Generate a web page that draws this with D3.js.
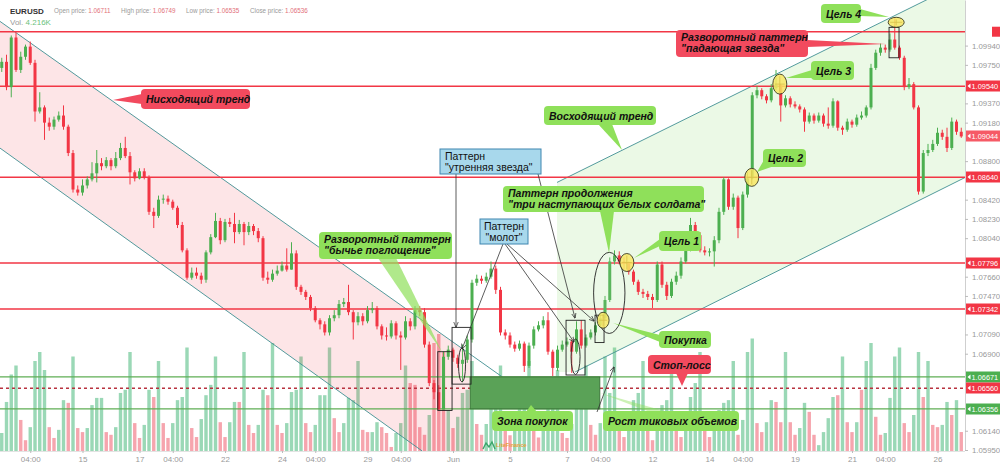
<!DOCTYPE html>
<html>
<head>
<meta charset="utf-8">
<script src="https://cdn.jsdelivr.net/npm/d3@7"></script>
<style>
  body { margin: 0; background: #fff; }
  svg { display: block; font-family: "Liberation Sans", Arial, sans-serif; }
</style>
</head>
<body>
<svg id="chart" width="1000" height="467"></svg>
<script>
// ---- data (EURUSD, H4) ----
const symbol = "EURUSD";
const headerFields = [["Open price", "1.06711"], ["High price", "1.06749"], ["Low price", "1.06535"], ["Close price", "1.06536"]];
const lastVolume = "4.216K";

const firstOpen = 1.0972;
const closes = [
  1.0978,1.0953,1.1002,1.0970,1.0983,1.0993,1.0977,1.0929,1.0933,1.0918,
  1.0914,1.0921,1.0925,1.0914,1.0888,1.0852,1.0849,1.0856,1.0862,1.0868,
  1.0878,1.0875,1.0881,1.0875,1.0883,1.0893,1.0885,1.0869,1.0863,1.0870,
  1.0864,1.0830,1.0826,1.0842,1.0843,1.0840,1.0834,1.0817,1.0792,1.0765,
  1.0770,1.0767,1.0763,1.0790,1.0805,1.0821,1.0802,1.0820,1.0818,1.0810,
  1.0818,1.0810,1.0816,1.0811,1.0804,1.0765,1.0763,1.0769,1.0772,1.0777,
  1.0773,1.0789,1.0756,1.0751,1.0746,1.0735,1.0723,1.0719,1.0711,1.0725,
  1.0728,1.0739,1.0741,1.0731,1.0721,1.0727,1.0722,1.0733,1.0735,1.0717,
  1.0708,1.0707,1.0720,1.0708,1.0706,1.0722,1.0717,1.0733,1.0731,1.0699,
  1.0661,1.0652,1.0635,1.0687,1.0694,1.0686,1.0680,1.0684,1.0704,1.0760,
  1.0764,1.0762,1.0766,1.0774,1.0753,1.0711,1.0708,1.0699,1.0695,1.0700,
  1.0678,1.0698,1.0714,1.0718,1.0723,1.0692,1.0676,1.0694,1.0699,1.0702,
  1.0692,1.0714,1.0698,1.0706,1.0711,1.0718,1.0725,1.0743,1.0781,1.0787,
  1.0781,1.0779,1.0771,1.0761,1.0751,1.0749,1.0746,1.0743,1.0778,1.0758,
  1.0747,1.0761,1.0767,1.0781,1.0792,1.0817,1.0807,1.0792,1.0790,1.0791,
  1.0802,1.0830,1.0862,1.0835,1.0844,1.0814,1.0847,1.0863,1.0945,1.0950,
  1.0944,1.0940,1.0952,1.0955,1.0935,1.0942,1.0936,1.0934,1.0931,1.0919,
  1.0925,1.0920,1.0925,1.0917,1.0915,1.0939,1.0913,1.0911,1.0919,1.0916,
  1.0923,1.0925,1.0933,1.0972,1.0987,1.0992,1.0990,1.1000,1.0992,1.0982,
  1.0953,1.0956,1.0933,1.0850,1.0888,1.0891,1.0897,1.0908,1.0904,1.0893,
  1.0919,1.0909,1.09044
];
const highs = [
  1.0982,1.0985,1.1004,1.1007,1.0988,1.0995,1.0998,1.0980,1.0948,1.0935,
  1.0923,1.0924,1.0929,1.0935,1.0916,1.0891,1.0856,1.0862,1.0865,1.0879,
  1.0891,1.0883,1.0884,1.0883,1.0889,1.0898,1.0904,1.0889,1.0871,1.0873,
  1.0873,1.0866,1.0834,1.0846,1.0847,1.0846,1.0842,1.0836,1.0820,1.0794,
  1.0775,1.0775,1.0770,1.0792,1.0808,1.0829,1.0824,1.0823,1.0824,1.0829,
  1.0822,1.0820,1.0820,1.0818,1.0814,1.0806,1.0771,1.0773,1.0777,1.0781,
  1.0794,1.0800,1.0792,1.0758,1.0753,1.0748,1.0737,1.0725,1.0722,1.0728,
  1.0733,1.0743,1.0745,1.0758,1.0733,1.0731,1.0730,1.0737,1.0741,1.0737,
  1.0719,1.0716,1.0723,1.0722,1.0712,1.0727,1.0725,1.0737,1.0737,1.0735,
  1.0702,1.0664,1.0659,1.0692,1.0698,1.0696,1.0689,1.0699,1.0708,1.0763,
  1.0768,1.0767,1.0770,1.0781,1.0777,1.0756,1.0714,1.0711,1.0702,1.0703,
  1.0702,1.0701,1.0717,1.0722,1.0727,1.0731,1.0694,1.0698,1.0703,1.0706,
  1.0704,1.0722,1.0723,1.0709,1.0714,1.0721,1.0729,1.0747,1.0785,1.0792,
  1.0791,1.0785,1.0781,1.0773,1.0763,1.0754,1.0752,1.0749,1.0781,1.0781,
  1.0761,1.0764,1.0771,1.0785,1.0796,1.0824,1.0820,1.0810,1.0796,1.0794,
  1.0806,1.0834,1.0864,1.0863,1.0848,1.0846,1.0850,1.0869,1.0948,1.0954,
  1.0952,1.0946,1.0956,1.0970,1.0956,1.0945,1.0944,1.0939,1.0936,1.0933,
  1.0928,1.0927,1.0928,1.0927,1.0933,1.0942,1.0940,1.0915,1.0922,1.0921,
  1.0926,1.0929,1.0935,1.0976,1.0990,1.0996,1.0995,1.1006,1.1021,1.0994,
  1.0984,1.0962,1.0958,1.0935,1.0891,1.0897,1.0901,1.0913,1.0911,1.0913,
  1.0923,1.0921,1.0913
];
const lows = [
  1.0968,1.0950,1.0943,1.0968,1.0967,1.0980,1.0975,1.0919,1.0927,1.0901,
  1.0910,1.0911,1.0919,1.0911,1.0885,1.0849,1.0846,1.0846,1.0853,1.0860,
  1.0859,1.0871,1.0873,1.0871,1.0873,1.0881,1.0883,1.0857,1.0860,1.0862,
  1.0862,1.0827,1.0814,1.0824,1.0838,1.0837,1.0832,1.0814,1.0790,1.0763,
  1.0763,1.0764,1.0759,1.0760,1.0788,1.0804,1.0798,1.0800,1.0815,1.0799,
  1.0808,1.0797,1.0807,1.0807,1.0800,1.0762,1.0759,1.0761,1.0767,1.0771,
  1.0771,1.0775,1.0753,1.0748,1.0743,1.0732,1.0721,1.0714,1.0708,1.0708,
  1.0722,1.0725,1.0736,1.0728,1.0704,1.0718,1.0718,1.0720,1.0730,1.0714,
  1.0704,1.0703,1.0705,1.0704,1.0674,1.0704,1.0713,1.0714,1.0727,1.0696,
  1.0658,1.0645,1.0637,1.0636,1.0684,1.0682,1.0676,1.0662,1.0681,1.0701,
  1.0757,1.0759,1.0760,1.0764,1.0749,1.0708,1.0704,1.0696,1.0692,1.0693,
  1.0672,1.0676,1.0695,1.0712,1.0715,1.0689,1.0668,1.0673,1.0692,1.0697,
  1.0671,1.0690,1.0695,1.0696,1.0704,1.0708,1.0716,1.0723,1.0741,1.0778,
  1.0778,1.0773,1.0768,1.0758,1.0748,1.0745,1.0743,1.0735,1.0741,1.0755,
  1.0743,1.0745,1.0758,1.0764,1.0779,1.0791,1.0804,1.0790,1.0787,1.0786,
  1.0776,1.0799,1.0827,1.0832,1.0832,1.0804,1.0812,1.0844,1.0862,1.0942,
  1.0941,1.0937,1.0938,1.0950,1.0919,1.0933,1.0933,1.0932,1.0928,1.0909,
  1.0917,1.0917,1.0918,1.0914,1.0912,1.0913,1.0910,1.0906,1.0909,1.0913,
  1.0914,1.0921,1.0923,1.0931,1.0970,1.0984,1.0987,1.0988,1.0990,1.0980,
  1.0950,1.0951,1.0931,1.0847,1.0848,1.0885,1.0889,1.0895,1.0901,1.0889,
  1.0891,1.0906,1.0903
];
// tick volume, thousands
const volumes = [
  4.0,10.9,17,19,6.9,2.4,5.3,20,22,18,
  5.3,2.9,4.7,11.3,10.7,21,5.1,4.2,5.1,10.2,
  11.8,11.8,4.2,3.6,5.3,12.9,13.6,22,6.2,2.9,
  5.8,13.6,12.0,20,6.2,2.9,6.2,11.3,12.0,23,
  5.1,3.1,7.1,12.4,14.7,21,6.4,3.1,6.4,10.9,
  10.9,22,5.8,4.0,5.8,13.6,12.4,24,5.8,4.0,
  6.2,13.1,13.6,21,6.2,4.2,5.8,12.4,12.4,23,
  7.3,4.2,6.2,11.8,11.3,20,4.7,4.2,4.2,6.4,
  5.3,4.0,0.9,4.0,6.2,19,15.1,14.7,5.3,3.6,
  8.0,24,26,22,9,5.1,7.6,12.9,13.6,20,
  6,3.6,6,11,12,19,6,3.5,6,11,
  12,20,6.5,3,6,11,12,18,4.0,2.9,
  6,11,12,19,5.8,3.6,6.2,21,12.9,23,
  5.1,3.1,6.4,11.3,12.9,20,5.1,2.4,6.2,10.2,
  11.3,21,4.7,3.1,6.2,12.0,15.1,22,5.3,3.1,
  6.9,9.1,10.7,11.3,20,3.6,6.9,22,25,6.2,
  4.2,6.4,11.3,10.9,6.4,22,6.4,3.6,5.1,10.7,
  8.7,3.6,1.3,4.2,7.3,12.0,12.4,21,6.4,4.2,
  6.4,13.6,20,24,7.6,3.6,4.0,11.8,21,23,
  6.2,4.2,8.0,22,12.0,20,5.8,5.3,5.8,10.9,
  8.0,11.3,4.216
];
const volDir = ("ggggrrgggg" + "rrggrgrrgg" + "ggrrggggrr" + "ggrgrrgggg" + "rrggggrrgg" +
                "rgrrggrgrr" + "ggggrrgggg" + "rrggggrrgg" + "rrrgggrrrr" + "grrrgrgggg" +
                "rrggggrrgg" + "ggrrggggrr" + "ggggrrgggg" + "rrggggrrgg" + "ggrrggggrr" +
                "gggggrgggr" + "rggrrgrrgg" + "rrggggrgrr" + "grggrrgggg" + "rrggrgrrgg" + "rgr").split("");

// time axis: candle index -> label
const tickIdx    = [6, 17, 29, 36, 47, 59, 66, 77, 84, 95, 107, 119, 126, 137, 149, 156, 167, 179, 186, 197];
const tickLabels = ["04:00","15","17","04:00","22","24","04:00","29","04:00","Jun","5","7","04:00","12","14","04:00","19","21","04:00","26"];

// horizontal levels
const redLevels   = [1.10077, 1.09540, 1.08640, 1.07796, 1.07342];
const greenLevels = [1.06671, 1.06356];
const stopLevel   = 1.06560;
const lastPrice   = 1.09044;

// trend channels, [candle index, price]
const descUpper = [[-1, 1.1020], [106, 1.0665]];
const descLower = [[-1, 1.0895], [88.5, 1.0594]];
const ascUpper  = [[116.9, 1.0859], [205, 1.1063]];
const ascLower  = [[120.7, 1.0672], [205, 1.0869]];

// pattern marks, [i0, i1, priceTop, priceBottom]
const patternBoxes = [[91.8, 94.8, 1.0692, 1.0634], [94.8, 98.8, 1.0716, 1.0660], [118.8, 122.8, 1.0723, 1.0669],
                      [124.9, 126.8, 1.0728, 1.0701], [186.8, 188.9, 1.1012, 1.0982]];
// [index, price, half-width in candles, half-height in price]
const patternEllipses = [[96.9, 1.0679, 0.74, 0.0017], [120.8, 1.0687, 0.95, 0.00175], [127.9, 1.0750, 3.3, 0.0040]];
const buyZone = [98.6, 125.9, 1.06671, 1.06356];
// entry and targets, [index, price]
const targets = [[126.6, 1.0723], [131.6, 1.0780], [157.9, 1.0864], [163.8, 1.0956], [188.3, 1.1017]];

// ---- chart ----
const svg = d3.select("#chart");
const plotR = 965, plotB = 451;
const x = d3.scaleLinear().domain([0, closes.length - 1]).range([1.75, 1.75 + 4.75 * (closes.length - 1)]);
const y = d3.scaleLinear().domain([1.0595, 1.1039]).range([450, 0]);
const yv = d3.scaleLinear().domain([0, 10]).range([plotB, plotB - 45]);

const UP = "#4caf50", DOWN = "#f23645";
const GREEN = "#8fe05a", RED = "#f24a5e", BLUE = "#a8d8ec";

const defs = svg.append("defs");
defs.append("clipPath").attr("id", "plot").append("rect").attr("width", plotR).attr("height", plotB);
defs.append("marker").attr("id", "arr").attr("viewBox", "0 0 10 10").attr("refX", 9).attr("refY", 5)
    .attr("markerWidth", 7).attr("markerHeight", 7).attr("orient", "auto")
  .append("path").attr("d", "M0,1L10,5L0,9").attr("fill", "none").attr("stroke", "#222").attr("stroke-width", 1.2);

const plot = svg.append("g").attr("clip-path", "url(#plot)");

// volume
plot.append("g").selectAll("rect").data(volumes).join("rect")
    .attr("x", (d, i) => x(i) - 1.7).attr("width", 3.4)
    .attr("y", d => yv(d)).attr("height", d => plotB - yv(d))
    .attr("fill", (d, i) => volDir[i] === "g" ? "#9ad8b6" : "#f6a5ae");

// channel fills
const lerp = (seg, i) => seg[0][1] + (seg[1][1] - seg[0][1]) * (i - seg[0][0]) / (seg[1][0] - seg[0][0]);
const pt = d => [x(d[0]), y(d[1])];
const pinkRight = buyZone[0];
const pinkPts = [descUpper[0], [pinkRight, lerp(descUpper, pinkRight)], [pinkRight, descLower[1][1]], descLower[1], descLower[0]];
const greenPts = [ascUpper[0], ascUpper[1], ascLower[1], ascLower[0], [ascUpper[0][0], ascLower[0][1]]];
plot.append("path").attr("d", d3.line()(pinkPts.map(pt)) + "Z").attr("fill", "rgba(242,54,69,0.13)");
plot.append("path").attr("d", d3.line()(greenPts.map(pt)) + "Z").attr("fill", "rgba(120,215,90,0.15)");

[descUpper, descLower, ascUpper, ascLower].forEach(seg => {
  plot.append("line").attr("x1", x(seg[0][0])).attr("y1", y(seg[0][1]))
      .attr("x2", x(seg[1][0])).attr("y2", y(seg[1][1]))
      .attr("stroke", "#3f8f92").attr("stroke-width", 0.9);
});

// levels
redLevels.forEach(p => plot.append("line").attr("x1", 0).attr("x2", plotR).attr("y1", y(p)).attr("y2", y(p))
    .attr("stroke", DOWN).attr("stroke-width", 1.5));
greenLevels.forEach(p => plot.append("line").attr("x1", 0).attr("x2", plotR).attr("y1", y(p)).attr("y2", y(p))
    .attr("stroke", "#5fae55").attr("stroke-width", 1.3));
plot.append("line").attr("x1", 0).attr("x2", plotR).attr("y1", y(stopLevel)).attr("y2", y(stopLevel))
    .attr("stroke", "#b8323f").attr("stroke-width", 1.5).attr("stroke-dasharray", "3,3");

// candles
const candles = closes.map((c, i) => {
  const o = i ? closes[i - 1] : firstOpen;
  return { i, o, c, h: Math.max(highs[i], o, c), l: Math.min(lows[i], o, c) };
});
const cg = plot.append("g").selectAll("g").data(candles).join("g");
cg.append("line").attr("x1", d => x(d.i)).attr("x2", d => x(d.i))
    .attr("y1", d => y(d.h)).attr("y2", d => y(d.l))
    .attr("stroke", d => d.c >= d.o ? UP : DOWN).attr("stroke-width", 1);
cg.append("rect").attr("x", d => x(d.i) - 1.5).attr("width", 3)
    .attr("y", d => y(Math.max(d.o, d.c)))
    .attr("height", d => Math.max(1, Math.abs(y(d.o) - y(d.c))))
    .attr("fill", d => d.c >= d.o ? UP : DOWN);

// buy zone
plot.append("rect").attr("x", x(buyZone[0])).attr("width", x(buyZone[1]) - x(buyZone[0]))
    .attr("y", y(buyZone[2])).attr("height", y(buyZone[3]) - y(buyZone[2]))
    .attr("fill", "#5aa257").attr("stroke", "#3b7638").attr("stroke-width", 1);

// pattern boxes and ellipses
plot.append("g").selectAll("rect").data(patternBoxes).join("rect")
    .attr("x", d => x(d[0])).attr("width", d => x(d[1]) - x(d[0]))
    .attr("y", d => y(d[2])).attr("height", d => y(d[3]) - y(d[2]))
    .attr("fill", "none").attr("stroke", "#222").attr("stroke-width", 0.9);
plot.append("g").selectAll("ellipse").data(patternEllipses).join("ellipse")
    .attr("cx", d => x(d[0])).attr("cy", d => y(d[1]))
    .attr("rx", d => x(d[0] + d[2]) - x(d[0])).attr("ry", d => y(d[1] - d[3]) - y(d[1]))
    .attr("fill", "rgba(255,255,255,0.08)").attr("stroke", "#222").attr("stroke-width", 0.9);

// entry / target markers
const markR = [[6, 8], [7, 9], [7, 9], [7, 10], [8, 5]];
const tg = plot.append("g").selectAll("g").data(targets).join("g")
    .attr("transform", d => `translate(${x(d[0])},${y(d[1])})`);
tg.append("ellipse").attr("rx", (d, k) => markR[k][0]).attr("ry", (d, k) => markR[k][1])
    .attr("fill", "rgba(248,232,100,0.85)").attr("stroke", "#3a3a22").attr("stroke-width", 0.9);
tg.append("path").attr("d", (d, k) => `M${-markR[k][0] + 2},0H${markR[k][0] - 2}M0,${-markR[k][1] + 2}V${markR[k][1] - 2}`)
    .attr("stroke", "#d8c04a").attr("stroke-width", 0.8);

// ---- annotations ----
const ann = svg.append("g");
const arrows = [[[456, 174], [456, 327]], [[538, 174], [575, 318]],
                [[503, 244], [462, 349]], [[505, 244], [574, 342]], [[507, 244], [594, 321]],
                [[597, 412], [614, 367]]];
arrows.forEach(a => ann.append("line").attr("x1", a[0][0]).attr("y1", a[0][1]).attr("x2", a[1][0]).attr("y2", a[1][1])
    .attr("stroke", "#333").attr("stroke-width", 0.8).attr("marker-end", "url(#arr)"));

const callouts = [
  { x: 141, y: 89, w: 109, h: 20, fill: RED, lines: ["Нисходящий тренд"], base: [[142, 94], [142, 104]], tip: [113, 100] },
  { x: 544, y: 106, w: 112, h: 19, fill: GREEN, lines: ["Восходящий тренд"], base: [[598, 124], [612, 124]], tip: [622, 150] },
  { x: 319, y: 232, w: 133, h: 27, fill: GREEN, lines: ["Разворотный паттерн", "\"бычье поглощение\""], base: [[378, 258], [396, 258]], tip: [442, 352], wedge: 0.7 },
  { x: 440, y: 149, w: 101, h: 25, fill: BLUE, stroke: "#3f86b0", plain: true, lines: ["Паттерн", "\"утренняя звезда\""] },
  { x: 480, y: 219, w: 48, h: 25, fill: BLUE, stroke: "#3f86b0", plain: true, center: true, lines: ["Паттерн", "\"молот\""] },
  { x: 503, y: 186, w: 201, h: 26, fill: GREEN, lines: ["Паттерн продолжения", "\"три наступающих белых солдата\""], base: [[600, 211], [614, 211]], tip: [609, 253] },
  { x: 659, y: 231, w: 42, h: 20, fill: GREEN, lines: ["Цель 1"], base: [[660, 239], [660, 246]], tip: [634, 258] },
  { x: 763, y: 149, w: 43, h: 18, fill: GREEN, lines: ["Цель 2"], base: [[764, 160], [774, 166]], tip: [757, 172] },
  { x: 811, y: 61, w: 43, h: 19, fill: GREEN, lines: ["Цель 3"], base: [[812, 70], [812, 78]], tip: [786, 78] },
  { x: 821, y: 4, w: 40, h: 19, fill: GREEN, lines: ["Цель 4"], base: [[860, 9], [860, 16]], tip: [889, 17] },
  { x: 676, y: 30, w: 132, h: 27, fill: RED, lines: ["Разворотный паттерн", "\"падающая звезда\""], base: [[807, 40], [807, 47]], tip: [886, 44] },
  { x: 659, y: 331, w: 52, h: 17, fill: GREEN, lines: ["Покупка"], base: [[660, 335], [660, 342]], tip: [613, 323] },
  { x: 648, y: 355, w: 63, h: 19, fill: RED, lines: ["Стоп-лосс"], base: [[676, 373], [688, 373]], tip: [682, 386] },
  { x: 492, y: 411, w: 81, h: 20, fill: GREEN, lines: ["Зона покупок"], base: [[526, 412], [537, 412]], tip: [531, 405] },
  { x: 603, y: 411, w: 136, h: 20, fill: GREEN, lines: ["Рост тиковых объемов"], base: [[650, 412], [668, 412]], tip: [600, 393], wedge: 0.45 }
];
callouts.forEach(c => {
  const g = ann.append("g");
  if (c.tip) {
    g.append("path").attr("d", `M${c.base[0]}L${c.tip}L${c.base[1]}Z`)
        .attr("fill", c.fill).attr("opacity", c.wedge || 1);
  }
  g.append("rect").attr("x", c.x).attr("y", c.y).attr("width", c.w).attr("height", c.h)
      .attr("rx", c.plain ? 0 : 4).attr("fill", c.fill)
      .attr("stroke", c.stroke || "none").attr("stroke-width", 1);
  const one = c.lines.length === 1;
  c.lines.forEach((t, k) => {
    g.append("text")
        .attr("x", c.center ? c.x + c.w / 2 : c.x + 5)
        .attr("y", one ? c.y + c.h / 2 + 4 : c.y + 10.5 + k * 11)
        .attr("text-anchor", c.center ? "middle" : "start")
        .attr("font-size", 10.5)
        .attr("font-style", c.plain ? "normal" : "italic")
        .attr("font-weight", c.plain ? "normal" : "bold")
        .attr("fill", "#111").text(t);
  });
});

// small watermark logo
const logo = ann.append("g").attr("transform", "translate(483,441)");
logo.append("path").attr("d", "M0,8L3,2L6,6L9,1L12,8").attr("fill", "none").attr("stroke", "#3aa56a").attr("stroke-width", 1.4);
logo.append("text").attr("x", 13).attr("y", 6).attr("font-size", 5.5).attr("font-weight", "bold").attr("fill", "#e8a13a").text("LiteFinance");

// ---- axes ----
const tags = [
  ...redLevels.slice(1).map(p => [p, DOWN]),
  [lastPrice, "#f65a66"],
  [greenLevels[0], "#4caf50"], [stopLevel, DOWN], [greenLevels[1], "#4caf50"]
];
// tick labels that sit under a price tag are hidden by it, as on the original
const priceTicks = d3.range(22).map(k => +(1.0595 + 0.0019 * k).toFixed(5))
    .filter(p => tags.every(t => Math.abs(y(p) - y(t[0])) > 9));
const ay = svg.append("g").attr("transform", `translate(${plotR},0)`)
    .call(d3.axisRight(y).tickValues(priceTicks).tickSize(3).tickSizeOuter(0).tickPadding(4).tickFormat(d => d.toFixed(5)));
ay.select(".domain").attr("stroke", "#cfcfcf");
ay.selectAll(".tick line").attr("stroke", "#bbb");
ay.selectAll(".tick text").attr("fill", "#999").attr("font-size", 7.8).attr("font-family", "Liberation Sans, Arial");

svg.append("line").attr("x1", 0).attr("x2", plotR).attr("y1", plotB + 0.5).attr("y2", plotB + 0.5).attr("stroke", "#e3e3e3");
const ax = svg.append("g").attr("transform", `translate(0,${plotB})`)
    .call(d3.axisBottom(x).tickValues(tickIdx).tickSize(2).tickSizeOuter(0).tickPadding(3).tickFormat((d, k) => tickLabels[k]));
ax.select(".domain").remove();
ax.selectAll(".tick line").attr("stroke", "#bbb");
ax.selectAll(".tick text").attr("fill", "#999").attr("font-size", 8).attr("font-family", "Liberation Sans, Arial");

// price tags on the axis
const tagG = svg.append("g").selectAll("g").data(tags).join("g")
    .attr("transform", d => `translate(${plotR + 1},${Math.round(y(d[0]))})`);
tagG.append("rect").attr("x", 0).attr("y", -5.5).attr("width", 34).attr("height", 11).attr("fill", d => d[1]);
tagG.append("path").attr("d", "M1.5,0L4.5,-2.5V2.5Z").attr("fill", "#fff");
tagG.append("text").attr("x", 5.5).attr("y", 3).attr("font-size", 7.4).attr("fill", "#fff").text(d => d[0].toFixed(5));
svg.append("rect").attr("x", 992).attr("y", y(redLevels[0]) - 5).attr("width", 8).attr("height", 10).attr("fill", DOWN);

// ---- header ----
const head = svg.append("g");
head.append("text").attr("x", 10).attr("y", 13.5).attr("font-size", 8).attr("font-weight", "bold").attr("fill", "#333").text(symbol);
const fieldX = [54, 121, 186, 250];
headerFields.forEach((f, k) => {
  const t = head.append("text").attr("x", fieldX[k]).attr("y", 12.5).attr("font-size", 6.3);
  t.append("tspan").attr("fill", "#999").text(f[0] + ": ");
  t.append("tspan").attr("fill", "#e2707a").text(f[1]);
});
const vt = head.append("text").attr("x", 10).attr("y", 25).attr("font-size", 8);
vt.append("tspan").attr("fill", "#999").text("Vol.  ");
vt.append("tspan").attr("fill", "#6cbf7c").text(lastVolume);
</script>
</body>
</html>
